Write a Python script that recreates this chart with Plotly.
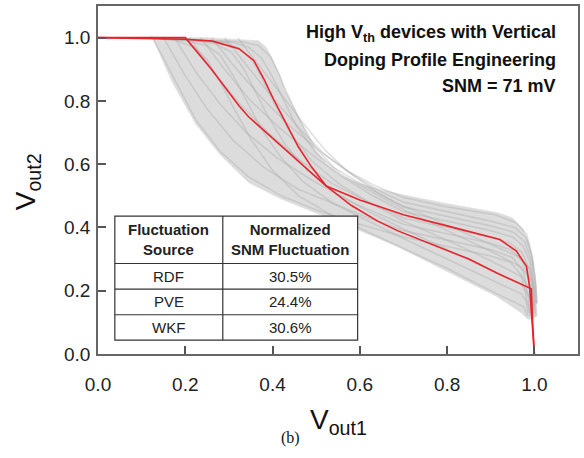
import plotly.graph_objects as go

# Axis ticks
tick_vals = [0.0, 0.2, 0.4, 0.6, 0.8, 1.0]
tick_text = ["0.0", "0.2", "0.4", "0.6", "0.8", "1.0"]

# Outline of the Monte Carlo spread of butterfly curves
band_x = [0.12, 0.25, 0.368, 0.385, 0.398, 0.415, 0.429, 0.448, 0.467, 0.497, 0.525, 0.557, 0.6,
          0.648, 0.709, 0.8, 0.914, 0.95, 0.974, 0.988, 0.998, 1.005, 1.006, 0.995, 0.985, 0.97,
          0.914, 0.8, 0.686, 0.6, 0.497, 0.42, 0.345, 0.28, 0.224, 0.17, 0.125]
band_y = [1.0, 1.0, 0.99, 0.97, 0.939, 0.885, 0.833, 0.78, 0.727, 0.648, 0.6, 0.563, 0.54,
          0.52, 0.5, 0.475, 0.447, 0.43, 0.394, 0.35, 0.29, 0.2, 0.12, 0.11, 0.11, 0.13,
          0.182, 0.26, 0.34, 0.39, 0.447, 0.49, 0.542, 0.63, 0.727, 0.86, 1.0]

# Monte Carlo butterfly curves, family A (sharp knee on the Vout2 = 1 rail)
family_a_x = [
    [0.125, 0.17, 0.224, 0.28, 0.345, 0.42, 0.5, 0.6, 0.7, 0.8, 0.9, 0.945, 0.97, 0.98, 0.985],
    [0.15, 0.2, 0.25, 0.31, 0.38, 0.46, 0.55, 0.62, 0.7, 0.8, 0.9, 0.95, 0.975, 0.985, 0.99],
    [0.175, 0.225, 0.28, 0.34, 0.41, 0.49, 0.58, 0.7, 0.8, 0.9, 0.945, 0.97, 0.985, 0.992, 0.995],
    [0.21, 0.265, 0.325, 0.39, 0.46, 0.535, 0.62, 0.7, 0.8, 0.9, 0.945, 0.972, 0.988, 0.995, 0.998],
    [0.235, 0.29, 0.35, 0.42, 0.49, 0.56, 0.63, 0.7, 0.8, 0.9, 0.95, 0.975, 0.99, 0.997, 1.0],
    [0.26, 0.315, 0.375, 0.44, 0.51, 0.58, 0.64, 0.7, 0.8, 0.9, 0.952, 0.978, 0.992, 1.0, 1.003],
    [0.29, 0.345, 0.4, 0.46, 0.52, 0.585, 0.645, 0.7, 0.8, 0.9, 0.955, 0.98, 0.994, 1.002, 1.005],
    [0.32, 0.37, 0.42, 0.47, 0.52, 0.57, 0.63, 0.7, 0.8, 0.91, 0.958, 0.982, 0.995, 1.003, 1.006],
]
family_a_y = [
    [1.0, 0.88, 0.74, 0.64, 0.56, 0.5, 0.455, 0.41, 0.37, 0.34, 0.31, 0.29, 0.25, 0.19, 0.13],
    [1.0, 0.88, 0.775, 0.675, 0.59, 0.52, 0.47, 0.43, 0.39, 0.36, 0.33, 0.305, 0.26, 0.19, 0.13],
    [1.0, 0.89, 0.79, 0.70, 0.62, 0.55, 0.48, 0.41, 0.38, 0.35, 0.33, 0.3, 0.25, 0.19, 0.13],
    [1.0, 0.89, 0.79, 0.70, 0.615, 0.54, 0.48, 0.43, 0.4, 0.37, 0.35, 0.32, 0.27, 0.2, 0.14],
    [1.0, 0.9, 0.8, 0.71, 0.63, 0.56, 0.5, 0.45, 0.42, 0.39, 0.37, 0.34, 0.29, 0.22, 0.15],
    [1.0, 0.905, 0.81, 0.72, 0.64, 0.57, 0.51, 0.465, 0.435, 0.405, 0.385, 0.355, 0.3, 0.22, 0.16],
    [1.0, 0.905, 0.81, 0.715, 0.63, 0.565, 0.515, 0.48, 0.45, 0.42, 0.4, 0.37, 0.31, 0.23, 0.16],
    [1.0, 0.91, 0.82, 0.73, 0.645, 0.58, 0.535, 0.495, 0.465, 0.44, 0.415, 0.38, 0.31, 0.23, 0.16],
]

# Family B (rounded knee, steep transition, then vertical drop near Vout1 = 1)
family_b_x = [
    [0.12, 0.18, 0.22, 0.25, 0.28, 0.31, 0.35, 0.40, 0.46, 0.54, 0.62, 0.70, 0.80, 0.914, 0.975, 0.985],
    [0.12, 0.2, 0.25, 0.28, 0.31, 0.34, 0.375, 0.42, 0.47, 0.54, 0.62, 0.70, 0.80, 0.9, 0.97, 0.985, 0.99],
    [0.12, 0.22, 0.27, 0.305, 0.335, 0.36, 0.39, 0.43, 0.48, 0.545, 0.62, 0.70, 0.8, 0.9, 0.97, 0.99, 0.995],
    [0.12, 0.24, 0.29, 0.325, 0.355, 0.38, 0.405, 0.44, 0.49, 0.55, 0.62, 0.70, 0.8, 0.9, 0.97, 0.993, 0.997],
    [0.12, 0.26, 0.31, 0.345, 0.375, 0.4, 0.425, 0.455, 0.5, 0.56, 0.63, 0.71, 0.8, 0.9, 0.97, 0.995, 1.0],
    [0.12, 0.28, 0.33, 0.368, 0.395, 0.415, 0.43, 0.467, 0.497, 0.54, 0.6, 0.68, 0.78, 0.88, 0.96, 0.99, 1.0, 1.003],
]
family_b_y = [
    [1.0, 0.99, 0.97, 0.93, 0.86, 0.78, 0.68, 0.58, 0.50, 0.435, 0.385, 0.335, 0.27, 0.19, 0.15, 0.12],
    [1.0, 0.99, 0.975, 0.945, 0.88, 0.8, 0.71, 0.62, 0.545, 0.475, 0.42, 0.365, 0.3, 0.235, 0.19, 0.16, 0.12],
    [1.0, 0.99, 0.98, 0.955, 0.9, 0.83, 0.75, 0.66, 0.58, 0.51, 0.45, 0.395, 0.33, 0.265, 0.22, 0.18, 0.12],
    [1.0, 0.99, 0.985, 0.965, 0.925, 0.86, 0.79, 0.7, 0.61, 0.54, 0.48, 0.42, 0.36, 0.295, 0.245, 0.2, 0.12],
    [1.0, 0.99, 0.985, 0.97, 0.935, 0.875, 0.805, 0.72, 0.635, 0.565, 0.51, 0.45, 0.39, 0.325, 0.275, 0.23, 0.13],
    [1.0, 0.99, 0.987, 0.975, 0.94, 0.885, 0.833, 0.727, 0.655, 0.59, 0.54, 0.48, 0.42, 0.36, 0.31, 0.27, 0.2, 0.12],
]

# Nominal butterfly curves
red1_x = [0.0, 0.2, 0.26, 0.323, 0.345, 0.434, 0.523, 0.6, 0.7, 0.8, 0.921, 0.959, 0.982, 0.989, 0.997, 1.0]
red1_y = [1.0, 1.0, 0.9, 0.785, 0.75, 0.642, 0.531, 0.487, 0.44, 0.405, 0.362, 0.325, 0.277, 0.214, 0.076, 0.0]
red2_x = [0.0, 0.2, 0.262, 0.323, 0.357, 0.38, 0.402, 0.43, 0.459, 0.49, 0.523, 0.58, 0.641, 0.686,
          0.75, 0.85, 0.914, 0.993, 0.996, 1.0]
red2_y = [1.0, 0.995, 0.989, 0.965, 0.928, 0.87, 0.806, 0.73, 0.655, 0.59, 0.531, 0.47, 0.42, 0.39,
          0.355, 0.3, 0.256, 0.206, 0.1, 0.0]

# Inset table
table_header = ["Fluctuation<br>Source", "Normalized<br>SNM Fluctuation"]
table_sources = ["RDF", "PVE", "WKF"]
table_values = ["30.5%", "24.4%", "30.6%"]

BAND = "#dcdcdc"
GRAY = "rgba(165,165,165,0.35)"
RED = "#e8232b"
FONT = "Arial, Liberation Sans, sans-serif"

fig = go.Figure()

fig.add_trace(go.Scatter(x=band_x, y=band_y, mode="lines", fill="toself", fillcolor=BAND,
                         line=dict(color="rgba(220,220,220,0.6)", width=1),
                         hoverinfo="skip", showlegend=False))

for xs, ys in zip(family_a_x + family_b_x, family_a_y + family_b_y):
    fig.add_trace(go.Scatter(x=xs, y=ys, mode="lines", line=dict(color=GRAY, width=1.6),
                             hoverinfo="skip", showlegend=False))

for xs, ys in [(red1_x, red1_y), (red2_x, red2_y)]:
    fig.add_trace(go.Scatter(x=xs, y=ys, mode="lines", line=dict(color=RED, width=1.6),
                             showlegend=False))

# Table geometry (data coordinates)
tx0, tx1, tx2 = 0.0386, 0.286, 0.595
ty_top, ty_head, ty_r1, ty_r2, ty_bot = 0.436, 0.286, 0.205, 0.124, 0.044
border = dict(color="#333333", width=1.2)
fig.add_shape(type="rect", x0=tx0, x1=tx2, y0=ty_bot, y1=ty_top, line=border,
              fillcolor="white", layer="above")
fig.add_shape(type="line", x0=tx1, x1=tx1, y0=ty_bot, y1=ty_top, line=border, layer="above")
for yy in (ty_head, ty_r1, ty_r2):
    fig.add_shape(type="line", x0=tx0, x1=tx2, y0=yy, y1=yy, line=border, layer="above")

col_c = [(tx0 + tx1) / 2, (tx1 + tx2) / 2]
for cx, txt in zip(col_c, table_header):
    fig.add_annotation(x=cx, y=(ty_top + ty_head) / 2, text="<b>" + txt + "</b>", showarrow=False,
                       font=dict(family=FONT, size=15, color="#222"), align="center")
row_c = [(ty_head + ty_r1) / 2, (ty_r1 + ty_r2) / 2, (ty_r2 + ty_bot) / 2]
for cy, src, val in zip(row_c, table_sources, table_values):
    fig.add_annotation(x=col_c[0], y=cy, text=src, showarrow=False,
                       font=dict(family=FONT, size=15, color="#222"))
    fig.add_annotation(x=col_c[1], y=cy, text=val, showarrow=False,
                       font=dict(family=FONT, size=15, color="#222"))

# Corner label
label_lines = ["<b>High V<sub>th</sub> devices with Vertical</b>",
               "<b>Doping Profile Engineering</b>",
               "<b>SNM = 71 mV</b>"]
for i, line in enumerate(label_lines):
    fig.add_annotation(xref="paper", yref="paper", x=(560 - 98) / 482,
                       y=(354 - (33 + 26.5 * i)) / 348, xanchor="right", yanchor="middle",
                       text=line, showarrow=False,
                       font=dict(family=FONT, size=18, color="#111"))

# Axis titles and caption
fig.add_annotation(xref="paper", yref="paper", x=(339 - 98) / 482, y=(354 - 421) / 348,
                   text="V<sub>out1</sub>", showarrow=False, xanchor="center", yanchor="middle",
                   font=dict(family=FONT, size=28, color="#111"))
fig.add_annotation(xref="paper", yref="paper", x=(27 - 98) / 482, y=(354 - 182) / 348,
                   text="V<sub>out2</sub>", showarrow=False, textangle=-90,
                   xanchor="center", yanchor="middle",
                   font=dict(family=FONT, size=28, color="#111"))
fig.add_annotation(xref="paper", yref="paper", x=(291 - 98) / 482, y=(354 - 438) / 348,
                   text="(b)", showarrow=False, xanchor="center", yanchor="middle",
                   font=dict(family="Liberation Serif, Times New Roman, serif", size=16, color="#111"))

axis_common = dict(range=[0, 1.1], tickvals=tick_vals, ticktext=tick_text, ticks="inside",
                   ticklen=8, tickwidth=1.5, tickcolor="#555", showline=True, linecolor="#666",
                   linewidth=1.8, mirror=True, showgrid=False, zeroline=False,
                   tickfont=dict(family=FONT, size=19, color="#222"))

fig.update_layout(
    width=584, height=458,
    margin=dict(l=98, r=4, t=6, b=104),
    paper_bgcolor="white", plot_bgcolor="white",
    xaxis=dict(**axis_common, ticklabelstandoff=12),
    yaxis=dict(**axis_common, ticklabelstandoff=2),
)

fig.write_html("out.html")
